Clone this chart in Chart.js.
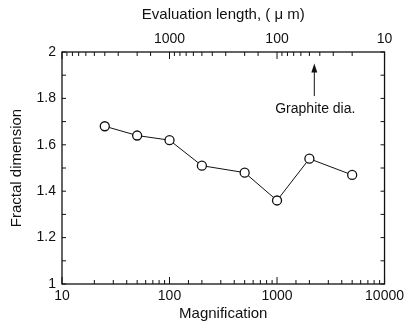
<!DOCTYPE html>
<html>
<head>
<meta charset="utf-8">
<script src="https://cdn.jsdelivr.net/npm/chart.js@4"></script>
<style>
  html, body { margin: 0; padding: 0; background: #fff; }
  #wrap { width: 408px; height: 323px; position: relative; }
</style>
</head>
<body>
<div id="wrap"><canvas id="fractalChart"></canvas></div>
<script>
// Data
const magnification = [25, 50, 100, 200, 500, 1000, 2000, 5000];
const fractalDim = [1.68, 1.64, 1.62, 1.51, 1.48, 1.36, 1.54, 1.47];
const bottomTickLabels = [10, 100, 1000, 10000];
const topTickLabels = [1000, 100, 10];   // evaluation length, um
const graphiteDia = 45;                  // um, arrow position on top axis

const ink = '#111';
const font = { family: 'Liberation Sans, Arial, sans-serif', size: 14 };
const titleFont = { family: 'Liberation Sans, Arial, sans-serif', size: 15 };

function isPow10(v) {
    const l = Math.log10(v);
    return Math.abs(l - Math.round(l)) < 1e-6;
}

// frame + inward tick marks, plus the graphite arrow
const frameTicks = {
    id: 'frameTicks',
    afterDraw(chart) {
        const { ctx, chartArea: a, scales } = chart;
        ctx.save();
        ctx.strokeStyle = ink;
        ctx.lineWidth = 1.3;
        ctx.strokeRect(a.left, a.top, a.right - a.left, a.bottom - a.top);

        ctx.lineWidth = 1;
        ctx.beginPath();
        scales.x.ticks.forEach(t => {
            const px = scales.x.getPixelForValue(t.value);
            const len = isPow10(t.value) ? 7 : 4;
            ctx.moveTo(px, a.bottom); ctx.lineTo(px, a.bottom - len);
        });
        scales.x2.ticks.forEach(t => {
            const px = scales.x2.getPixelForValue(t.value);
            const len = isPow10(t.value) ? 7 : 4;
            ctx.moveTo(px, a.top); ctx.lineTo(px, a.top + len);
        });
        scales.y.ticks.forEach(t => {
            const py = scales.y.getPixelForValue(t.value);
            ctx.moveTo(a.left, py); ctx.lineTo(a.left + 4, py);
            ctx.moveTo(a.right, py); ctx.lineTo(a.right - 4, py);
        });
        ctx.stroke();

        // arrow for graphite diameter
        const ax = scales.x2.getPixelForValue(graphiteDia);
        const yTip = scales.y.getPixelForValue(1.95);
        const yTail = scales.y.getPixelForValue(1.81);
        ctx.beginPath();
        ctx.moveTo(ax, yTail); ctx.lineTo(ax, yTip + 6);
        ctx.stroke();
        ctx.fillStyle = ink;
        ctx.beginPath();
        ctx.moveTo(ax, yTip); ctx.lineTo(ax - 3, yTip + 9); ctx.lineTo(ax + 3, yTip + 9);
        ctx.closePath();
        ctx.fill();

        ctx.font = '14px Liberation Sans, Arial, sans-serif';
        ctx.textAlign = 'center';
        ctx.textBaseline = 'middle';
        ctx.fillText('Graphite dia.', ax + 1, scales.y.getPixelForValue(1.755));
        ctx.restore();
    }
};

const ctx = document.getElementById('fractalChart').getContext('2d');
new Chart(ctx, {
    type: 'line',
    data: {
        datasets: [{
            data: magnification.map((m, i) => ({ x: m, y: fractalDim[i] })),
            borderColor: ink,
            borderWidth: 1,
            pointRadius: 4.5,
            pointBorderWidth: 1.3,
            pointBackgroundColor: '#fff',
            pointBorderColor: ink,
            tension: 0
        }]
    },
    options: {
        responsive: true,
        maintainAspectRatio: false,
        animation: false,
        layout: { padding: 0 },
        plugins: { legend: { display: false }, tooltip: { enabled: false } },
        scales: {
            x: {
                type: 'logarithmic', position: 'bottom', min: 10, max: 10000,
                grid: { display: false, drawTicks: false }, border: { display: false },
                ticks: {
                    color: ink, font, padding: 4, maxRotation: 0, autoSkip: false,
                    callback: v => bottomTickLabels.includes(v) ? String(v) : ''
                },
                title: { display: true, text: 'Magnification', color: ink, font: titleFont, padding: 0 },
                afterFit: s => { s.height = 39; }
            },
            x2: {
                type: 'logarithmic', position: 'top', min: 10, max: 10000, reverse: true,
                grid: { display: false, drawTicks: false }, border: { display: false },
                ticks: {
                    color: ink, font, padding: 4, maxRotation: 0, autoSkip: false,
                    callback: v => topTickLabels.includes(v) ? String(v) : ''
                },
                title: { display: true, text: 'Evaluation length, ( \u03bc m)', color: ink, font: titleFont, padding: { top: 6, bottom: 0 } },
                afterFit: s => { s.height = 52; }
            },
            y: {
                min: 1, max: 2,
                grid: { display: false, drawTicks: false }, border: { display: false },
                ticks: {
                    stepSize: 0.1, color: ink, font, padding: 6,
                    callback: v => Math.round(v * 10) % 2 === 0 ? String(+v.toFixed(1)) : ''
                },
                title: { display: true, text: 'Fractal dimension', color: ink, font: titleFont, padding: { top: 8, bottom: 0 } },
                afterFit: s => { s.width = 62; }
            },
            y2: {
                position: 'right', min: 1, max: 2,
                grid: { display: false, drawTicks: false }, border: { display: false },
                ticks: { display: false },
                afterFit: s => { s.width = 23; }
            }
        }
    },
    plugins: [frameTicks]
});
</script>
</body>
</html>
